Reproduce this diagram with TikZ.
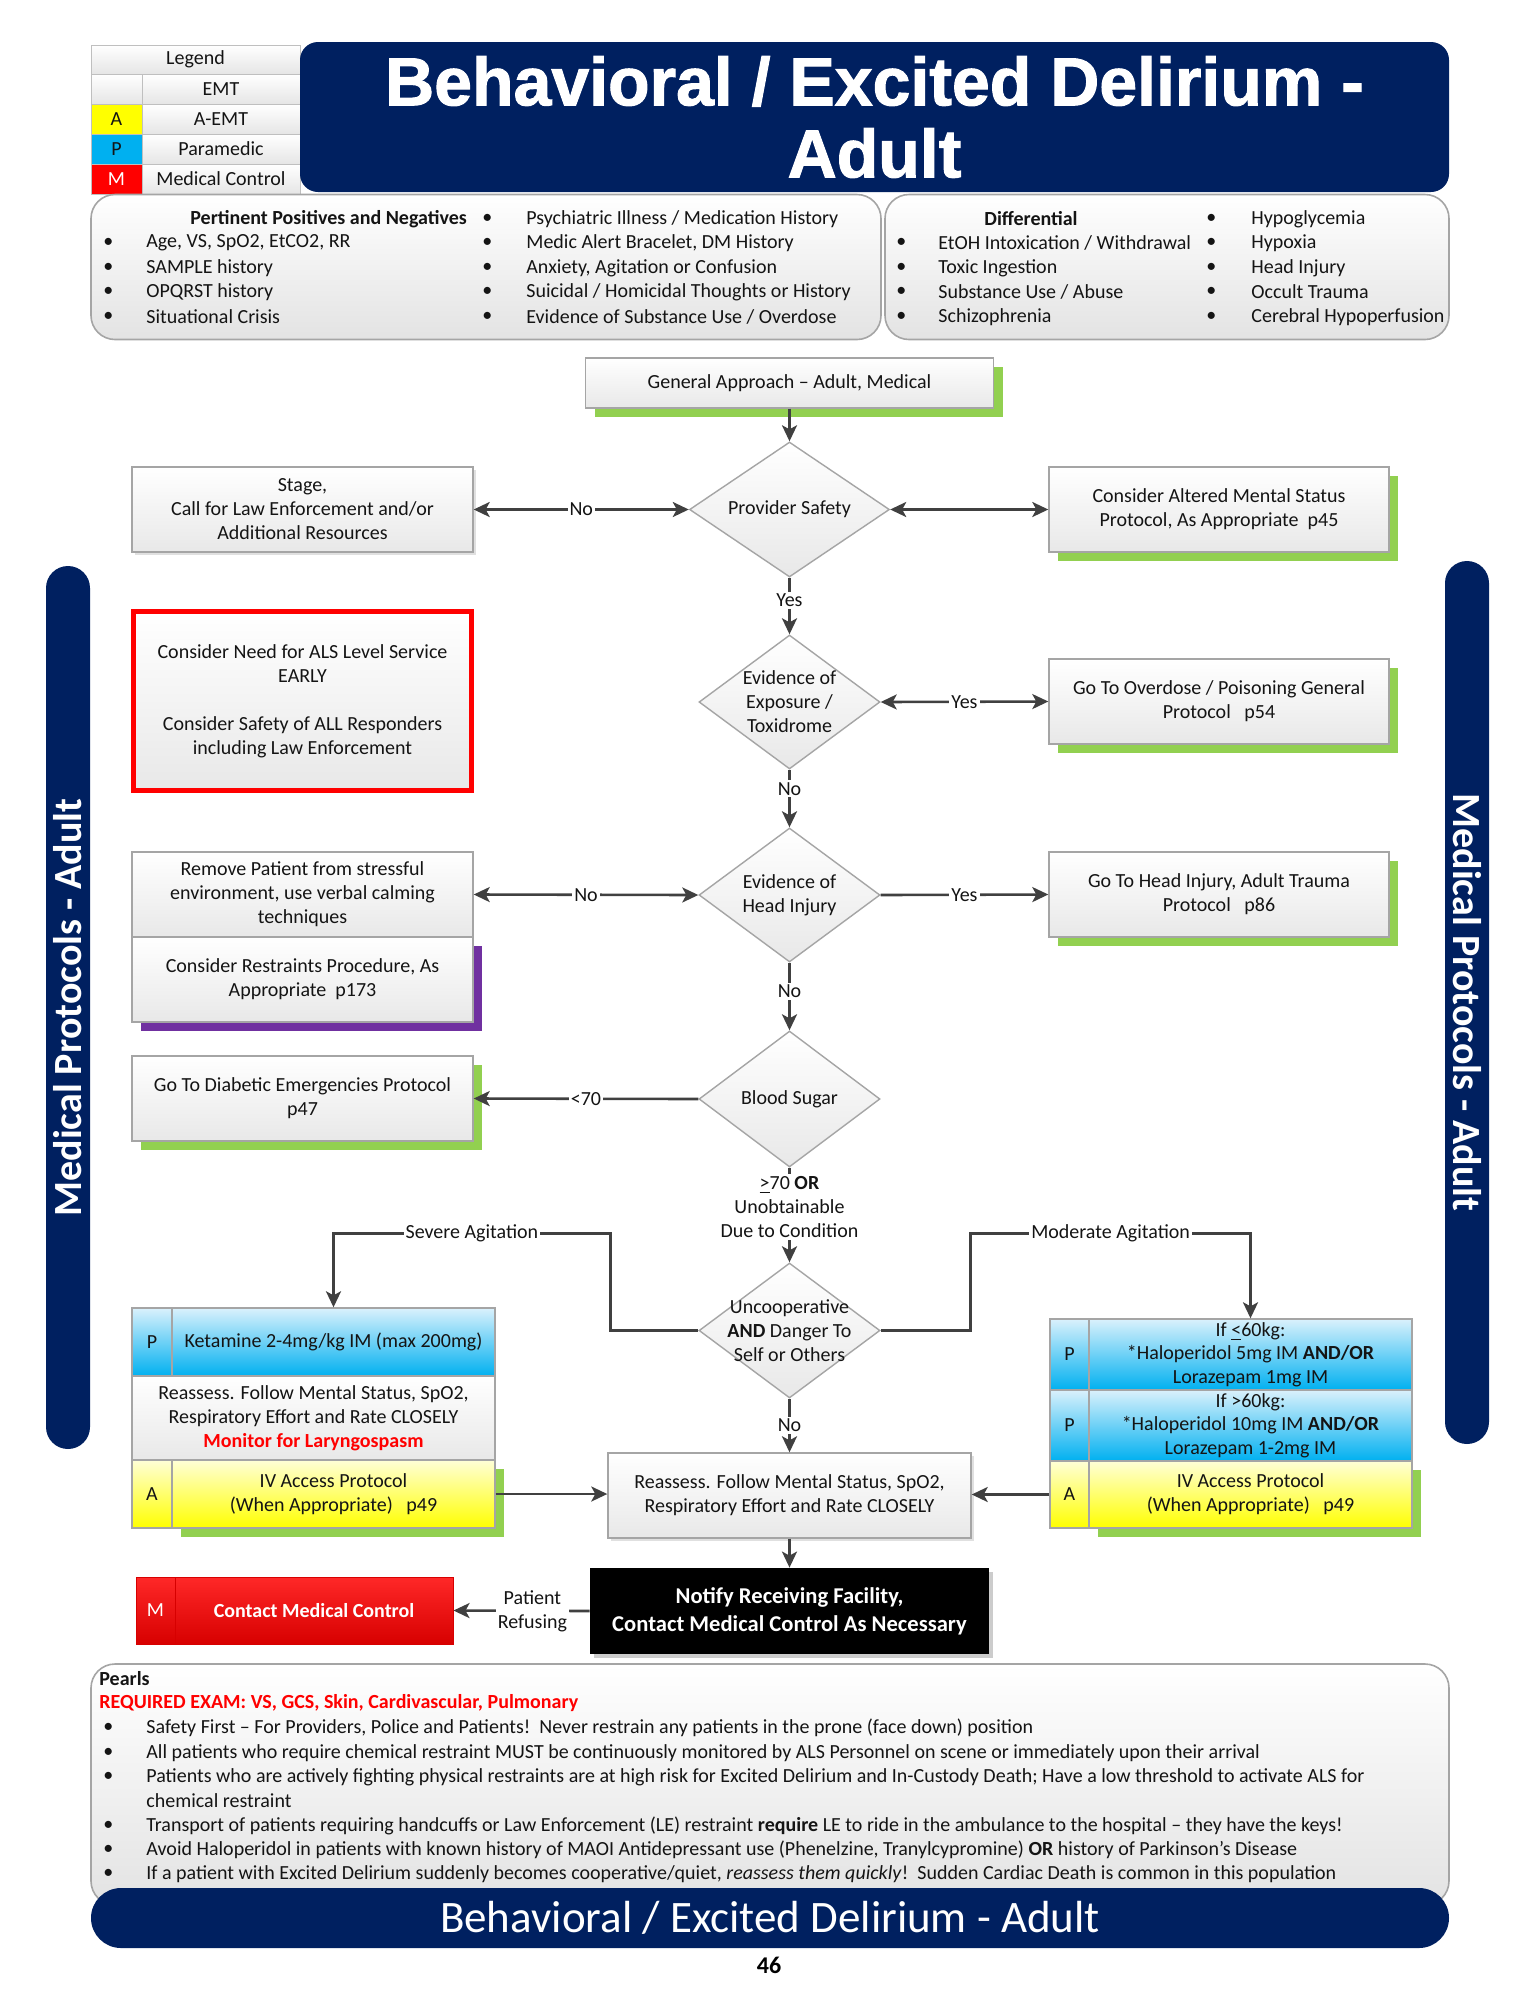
\documentclass[tikz,border=0pt]{standalone}
\usepackage{fontspec}
\setmainfont{Carlito}
\newfontfamily\titlefont[BoldFeatures={FakeBold=1.5}]{Liberation Sans}
\usetikzlibrary{arrows.meta,shapes.geometric,shadows,calc}
\definecolor{navy}{RGB}{0,32,96}
\definecolor{shgreen}{RGB}{146,208,80}
\definecolor{shpurple}{RGB}{112,48,160}
\definecolor{boxline}{RGB}{165,165,165}
\definecolor{arrgray}{RGB}{64,64,64}
\definecolor{pblue}{RGB}{0,176,240}
\definecolor{pbluelt}{RGB}{218,241,252}
\definecolor{ayel}{RGB}{255,255,0}
\definecolor{ayellt}{RGB}{255,255,215}
\definecolor{mred}{RGB}{255,0,0}
\definecolor{mredtop}{RGB}{255,40,40}
\definecolor{mreddk}{RGB}{215,0,0}
\definecolor{bodytxt}{RGB}{20,20,20}
\begin{document}
\begin{tikzpicture}[x=0.5pt,y=-0.5pt,
  wh/.style 2 args={minimum width=#1*0.5pt, minimum height=#2*0.5pt},
  base/.style={inner sep=0pt, align=center, font=\fontsize{10}{12}\selectfont, text=bodytxt},
  txt/.style={inner sep=0pt, anchor=west, font=\fontsize{10}{12}\selectfont, text=bodytxt},
  gbox/.style={base, rectangle, draw=boxline, line width=0.7pt, top color=white, bottom color=black!9},
  gshadow/.style={general shadow={fill=shgreen, draw=none, shadow xshift=4.5pt, shadow yshift=-4.5pt}},
  pshadow/.style={general shadow={fill=shpurple, draw=none, shadow xshift=4.5pt, shadow yshift=-4.5pt}},
  soft/.style={general shadow={fill=black!12, draw=none, shadow xshift=1.5pt, shadow yshift=-1.5pt}},
  dia/.style={diamond, draw=boxline, line width=0.7pt, top color=white, bottom color=black!9, inner sep=0pt},
  arr/.style={draw=arrgray, line width=1.3pt, -{Stealth[length=8pt,width=7.5pt,inset=2pt]}},
  darr/.style={draw=arrgray, line width=1.3pt, {Stealth[length=8pt,width=7.5pt,inset=2pt]}-{Stealth[length=8pt,width=7.5pt,inset=2pt]}},
  lbl/.style={fill=white, inner sep=1pt, align=center, font=\fontsize{10}{12}\selectfont, text=bodytxt},
  bluecell/.style={base, rectangle, draw=boxline, line width=0.7pt, top color=pbluelt, bottom color=pblue},
  yelcell/.style={base, rectangle, draw=boxline, line width=0.7pt, top color=ayellt, bottom color=ayel},
  redcell/.style={base, rectangle, draw=mreddk, line width=0.5pt, top color=mredtop, bottom color=mreddk, text=white},
  lcell/.style={base, rectangle, draw=black!25, line width=0.5pt, top color=white, bottom color=black!10},
  pbox/.style={rectangle, draw=boxline, line width=0.8pt, rounded corners=12pt, top color=white, bottom color=black!11, inner sep=0pt},
  banner/.style={rectangle, fill=navy, inner sep=0pt, text=white}
]
\useasboundingbox (0,0) rectangle (1540,1993);
\fill[white] (0,0) rectangle (1540,1993);

% ---------- Legend ----------
\node[lcell, wh={209}{29}] (lg0) at (195.5,59.5) {Legend};
\node[lcell, wh={51}{30}] (lc1) at (116.5,89) {};
\node[lcell, wh={158}{30}] (lt1) at (221,89) {EMT};
\node[base, rectangle, draw=black!25, line width=0.5pt, fill=ayel, wh={51}{30}] (lc2) at (116.5,119) {A};
\node[lcell, wh={158}{30}] (lt2) at (221,119) {A-EMT};
\node[base, rectangle, draw=black!25, line width=0.5pt, fill=pblue, wh={51}{30}] (lc3) at (116.5,149) {P};
\node[lcell, wh={158}{30}] (lt3) at (221,149) {Paramedic};
\node[base, rectangle, draw=black!25, line width=0.5pt, fill=mred, text=white, wh={51}{30}] (lc4) at (116.5,179) {M};
\node[lcell, wh={158}{30}] (lt4) at (221,179) {Medical Control};

% ---------- Title ----------
\node[banner, rounded corners=9pt, wh={1149}{150}, align=center,
  font=\titlefont\bfseries\fontsize{34}{36}\selectfont] (title) at (874.5,117)
  {Behavioral / Excited Delirium -\\Adult};

% ---------- Pertinent / Differential ----------
\node[pbox, wh={790}{145}] (ppn) at (486,267) {};
\node[pbox, wh={564}{145}] (dif) at (1167,267) {};

\node[txt, font=\fontsize{10}{12}\selectfont\bfseries] (pph) at (190,219) {Pertinent Positives and Negatives};
\node[txt] (pb1) at (103,243) {•};
\node[txt] (pb2) at (103,268) {•};
\node[txt] (pb3) at (103,292) {•};
\node[txt] (pb4) at (103,317) {•};
\node[txt] (pt1) at (146,243) {Age, VS, SpO2, EtCO2, RR};
\node[txt] (pt2) at (146,268) {SAMPLE history};
\node[txt] (pt3) at (146,292) {OPQRST history};
\node[txt] (pt4) at (146,317) {Situational Crisis};
\node[txt] (pc0) at (482,219) {•};
\node[txt] (pc1) at (482,243) {•};
\node[txt] (pc2) at (482,268) {•};
\node[txt] (pc3) at (482,292) {•};
\node[txt] (pc4) at (482,317) {•};
\node[txt] (pu0) at (526,219) {Psychiatric Illness / Medication History};
\node[txt] (pu1) at (526,243) {Medic Alert Bracelet, DM History};
\node[txt] (pu2) at (526,268) {Anxiety, Agitation or Confusion};
\node[txt] (pu3) at (526,292) {Suicidal / Homicidal Thoughts or History};
\node[txt] (pu4) at (526,317) {Evidence of Substance Use / Overdose};

\node[txt, font=\fontsize{10}{12}\selectfont\bfseries] (dfh) at (984,219) {Differential};
\node[txt] (db1) at (896,243) {•};
\node[txt] (db2) at (896,268) {•};
\node[txt] (db3) at (896,292) {•};
\node[txt] (db4) at (896,317) {•};
\node[txt] (dt1) at (938,243) {EtOH Intoxication / Withdrawal};
\node[txt] (dt2) at (938,268) {Toxic Ingestion};
\node[txt] (dt3) at (938,292) {Substance Use / Abuse};
\node[txt] (dt4) at (938,317) {Schizophrenia};
\node[txt] (dc0) at (1206,219) {•};
\node[txt] (dc1) at (1206,243) {•};
\node[txt] (dc2) at (1206,268) {•};
\node[txt] (dc3) at (1206,292) {•};
\node[txt] (dc4) at (1206,317) {•};
\node[txt] (du0) at (1251,219) {Hypoglycemia};
\node[txt] (du1) at (1251,243) {Hypoxia};
\node[txt] (du2) at (1251,268) {Head Injury};
\node[txt] (du3) at (1251,292) {Occult Trauma};
\node[txt] (du4) at (1251,317) {Cerebral Hypoperfusion};

% ---------- Side banners ----------
\node[banner, rounded corners=11pt, wh={44}{883}] (lban) at (68,1007.5) {};
\node[rotate=90, text=white, inner sep=0pt, font=\bfseries\fontsize{20}{24}\selectfont] (lbt) at (lban) {Medical Protocols - Adult};
\node[banner, rounded corners=11pt, wh={44}{883}] (rban) at (1467,1002.5) {};
\node[rotate=-90, text=white, inner sep=0pt, font=\bfseries\fontsize{20}{24}\selectfont] (rbt) at (rban) {Medical Protocols - Adult};

% ---------- Flow nodes ----------
\node[gbox, gshadow, wh={408}{50}] (ga) at (789.5,383) {General Approach – Adult, Medical};

\node[dia, wh={200}{135}] (d1) at (789.5,509.5) {};
\node[base] (d1t) at (d1) {Provider Safety};
\node[gbox, soft, wh={341}{85}] (stage) at (302.5,509.5) {Stage,\\Call for Law Enforcement and/or\\Additional Resources};
\node[gbox, gshadow, wh={340}{85}] (ams) at (1219,509.5) {Consider Altered Mental Status\\Protocol, As Appropriate\ \ p45};

\node[gbox, draw=red, line width=2.5pt, wh={338}{179}] (als) at (302.5,701) {Consider Need for ALS Level Service\\EARLY\\[12pt]Consider Safety of ALL Responders\\including Law Enforcement};

\node[dia, wh={181}{134}] (d2) at (789.5,702) {};
\node[base] (d2t) at (d2) {Evidence of\\Exposure /\\Toxidrome};
\node[gbox, gshadow, wh={340}{85}] (od) at (1219,701.5) {Go To Overdose / Poisoning General\\Protocol\ \ \ p54};

\node[dia, wh={181}{134}] (d3) at (789.5,895) {};
\node[base] (d3t) at (d3) {Evidence of\\Head Injury};
\node[gbox, gshadow, wh={340}{85}] (ht) at (1219,894.5) {Go To Head Injury, Adult Trauma\\Protocol\ \ \ p86};
\node[gbox, pshadow, wh={341}{85}] (rst) at (302.5,979.5) {Consider Restraints Procedure, As\\Appropriate\ \ p173};
\node[gbox, wh={341}{85}] (rem) at (302.5,894.5) {Remove Patient from stressful\\environment, use verbal calming\\techniques};

\node[dia, wh={181}{136}] (d4) at (789.5,1099) {};
\node[base] (d4t) at (d4) {Blood Sugar};
\node[gbox, gshadow, wh={341}{85}] (diab) at (302.5,1098.5) {Go To Diabetic Emergencies Protocol\\p47};

\node[dia, wh={181}{135}] (d5) at (789.5,1330.5) {};
\node[base] (d5t) at (d5) {Uncooperative\\\textbf{AND} Danger To\\Self or Others};

% left medication block
\node[bluecell, wh={40}{68}] (lp) at (152,1342) {P};
\node[bluecell, wh={323}{68}] (lkt) at (333.5,1342) {Ketamine 2-4mg/kg IM (max 200mg)};
\node[gbox, wh={363}{84}] (lkr) at (313.5,1418) {Reassess. Follow Mental Status, SpO2,\\Respiratory Effort and Rate CLOSELY\\\textcolor{red}{\textbf{Monitor for Laryngospasm}}};
\node[yelcell, wh={40}{68}] (la) at (152,1494) {A};
\node[yelcell, gshadow, wh={323}{68}] (liv) at (333.5,1494) {IV Access Protocol\\(When Appropriate)\ \ \ p49};

% right medication block
\node[bluecell, wh={39}{71}] (rp1) at (1069.5,1354.5) {P};
\node[bluecell, wh={323}{71}, font=\fontsize{10}{11.75}\selectfont] (rt1) at (1250.5,1354.5) {If \underline{<}60kg:\\*Haloperidol 5mg IM \textbf{AND/OR}\\Lorazepam 1mg IM};
\node[bluecell, wh={39}{71}] (rp2) at (1069.5,1425.5) {P};
\node[bluecell, wh={323}{71}, font=\fontsize{10}{11.75}\selectfont] (rt2) at (1250.5,1425.5) {If >60kg:\\*Haloperidol 10mg IM \textbf{AND/OR}\\Lorazepam 1-2mg IM};
\node[yelcell, wh={39}{67}] (ra) at (1069.5,1494.5) {A};
\node[yelcell, gshadow, wh={323}{67}] (riv) at (1250.5,1494.5) {IV Access Protocol\\(When Appropriate)\ \ \ p49};

\node[gbox, soft, wh={363}{85}] (rea) at (789.5,1495.5) {Reassess. Follow Mental Status, SpO2,\\Respiratory Effort and Rate CLOSELY};

\node[base, rectangle, fill=black, text=white, general shadow={fill=black!20, draw=none, shadow xshift=2pt, shadow yshift=-2pt}, wh={399}{86}, font=\bfseries\fontsize{11.3}{14}\selectfont] (nt) at (789.5,1611) {Notify Receiving Facility,\\Contact Medical Control As Necessary};

\node[redcell, wh={39}{67}] (cm) at (155.5,1610.5) {M};
\node[redcell, wh={278}{67}, font=\bfseries\fontsize{10}{12}\selectfont] (cmc) at (314,1610.5) {Contact Medical Control};

% ---------- Connectors ----------
\draw[arr] (ga.south) -- (d1.north);
\draw[darr] (d1.west) -- node[lbl] (l1) {No} (stage.east);
\draw[darr] (d1.east) -- (ams.west);
\draw[arr] (d1.south) -- node[lbl, pos=0.4] (l2) {Yes} (d2.north);
\draw[darr] (d2.east) -- node[lbl] (l3) {Yes} (od.west);
\draw[arr] (d2.south) -- node[lbl, pos=0.33] (l4) {No} (d3.north);
\draw[darr] (d3.west) -- node[lbl] (l5) {No} (rem.east);
\draw[arr] (d3.east) -- node[lbl] (l6) {Yes} (ht.west);
\draw[arr] (d3.south) -- node[lbl, pos=0.42] (l7) {No} (d4.north);
\draw[arr] (d4.west) -- node[lbl] (l8) {<70} (diab.east);
\draw[arr] (d4.south) -- (d5.north);
\node[lbl] (bsl) at (789.5,1207) {\underline{>}70 \textbf{OR}\\Unobtainable\\Due to Condition};
\draw[arr] (d5.west) -- ++(-88,0) |- node[lbl, pos=0.75] (l9) {Severe Agitation} ($(lkt.north)+(0,-74)$) -- (lkt.north);
\draw[arr] (d5.east) -- ++(90,0) |- node[lbl, pos=0.75] (l10) {Moderate Agitation} ($(rt1.north)+(0,-85)$) -- (rt1.north);
\draw[arr] (d5.south) -- node[lbl] (l11) {No} (rea.north);
\draw[arr] (liv.east) -- (liv.east -| rea.west);
\draw[arr] (ra.west) -- (ra.west -| rea.east);
\draw[arr] (rea.south) -- (nt.north);
\draw[arr] (nt.west) -- node[lbl, pos=0.42] (l12) {Patient\\Refusing} (cmc.east);

% ---------- Pearls ----------
\node[pbox, wh={1358}{241}] (prl) at (770,1784.5) {};
\node[txt, font=\fontsize{10}{12}\selectfont\bfseries] (prh) at (99,1679) {Pearls};
\node[txt, text=red, font=\fontsize{10}{12}\selectfont\bfseries] (prq) at (99,1703) {REQUIRED EXAM: VS, GCS, Skin, Cardivascular, Pulmonary};
\node[txt] (qb1) at (103,1728) {•};
\node[txt] (qb2) at (103,1753) {•};
\node[txt] (qb3) at (103,1777) {•};
\node[txt] (qb4) at (103,1826) {•};
\node[txt] (qb5) at (103,1850) {•};
\node[txt] (qb6) at (103,1874) {•};
\node[txt] (qt1) at (146,1728) {Safety First – For Providers, Police and Patients!\ \ Never restrain any patients in the prone (face down) position};
\node[txt] (qt2) at (146,1753) {All patients who require chemical restraint MUST be continuously monitored by ALS Personnel on scene or immediately upon their arrival};
\node[txt] (qt3) at (146,1777) {Patients who are actively fighting physical restraints are at high risk for Excited Delirium and In-Custody Death; Have a low threshold to activate ALS for};
\node[txt] (qt3b) at (146,1801) {chemical restraint};
\node[txt] (qt4) at (146,1826) {Transport of patients requiring handcuffs or Law Enforcement (LE) restraint \textbf{require} LE to ride in the ambulance to the hospital – they have the keys!};
\node[txt] (qt5) at (146,1850) {Avoid Haloperidol in patients with known history of MAOI Antidepressant use (Phenelzine, Tranylcypromine) \textbf{OR} history of Parkinson’s Disease};
\node[txt] (qt6) at (146,1874) {If a patient with Excited Delirium suddenly becomes cooperative/quiet, \textit{reassess them quickly}!\ \ Sudden Cardiac Death is common in this population};

% ---------- Bottom banner ----------
\node[banner, rounded corners=15pt, wh={1358}{60}, font=\fontsize{22.5}{26}\selectfont] (bot) at (770,1918) {Behavioral / Excited Delirium - Adult};
\node[font=\bfseries\fontsize{12}{14}\selectfont, inner sep=0pt] (pg) at (769,1965) {46};
\end{tikzpicture}
\end{document}
